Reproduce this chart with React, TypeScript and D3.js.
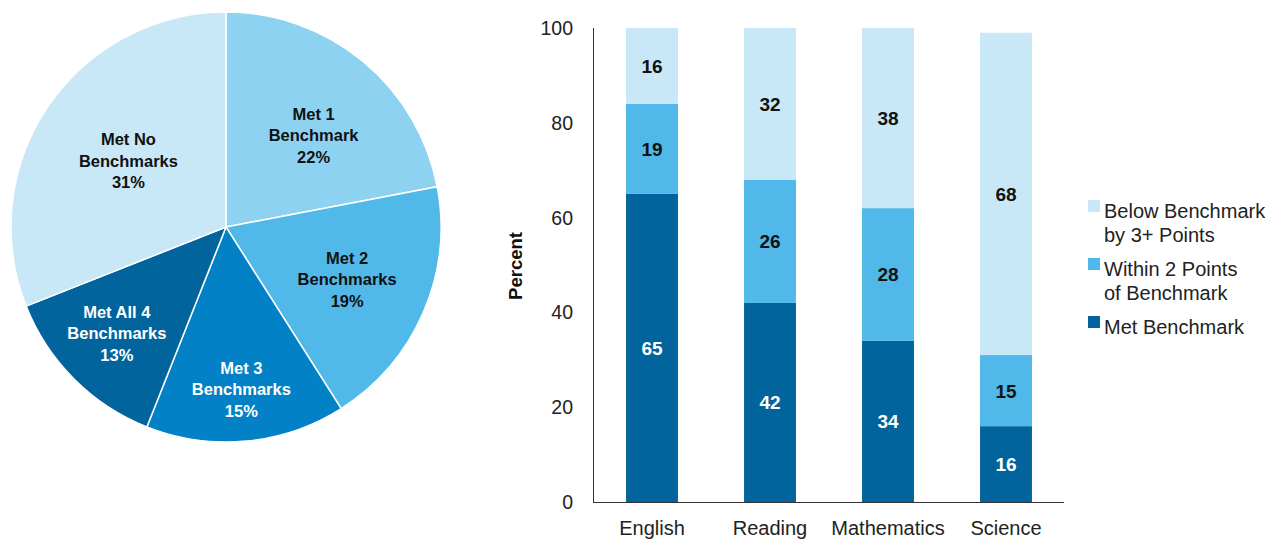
import React from "react";
import * as d3 from "d3";

const pieLabels = [
  ["Met 1", "Benchmark", "22%"],
  ["Met 2", "Benchmarks", "19%"],
  ["Met 3", "Benchmarks", "15%"],
  ["Met All 4", "Benchmarks", "13%"],
  ["Met No", "Benchmarks", "31%"],
];
const pieValues = [22, 19, 15, 13, 31];
const pieColors = ["#8ed2f2", "#50b9e9", "#0381c6", "#02649c", "#c8e8f8"];
const pieTextColors = ["#111", "#111", "#fff", "#fff", "#111"];
const pieLabelRadius = [128, 132, 163, 153, 118];
const pieLabelNudge = [[6, 7], [0, 0], [0, 0], [-1, -2], [0, 0]];

const categories = ["English", "Reading", "Mathematics", "Science"];
const metBenchmark = [65, 42, 34, 16];
const within2 = [19, 26, 28, 15];
const below3 = [16, 32, 38, 68];
const seriesColors = ["#02649c", "#50b9e9", "#c8e8f8"];
const seriesTextColors = ["#fff", "#111", "#111"];
const yTicks = [0, 20, 40, 60, 80, 100];
const legendItems = [
  { lines: ["Below Benchmark", "by 3+ Points"], color: "#c8e8f8" },
  { lines: ["Within 2 Points", "of Benchmark"], color: "#50b9e9" },
  { lines: ["Met Benchmark"], color: "#02649c" },
];

const FONT = "'Liberation Sans', Arial, Helvetica, sans-serif";

export default function App() {
  const cx = 226, cy = 227, R = 215;
  const pie = d3.pie<number>().value((d) => d).sort(null);
  const arcs = pie(pieValues);
  const arcGen = d3.arc<d3.PieArcDatum<number>>().innerRadius(0).outerRadius(R);

  const x = d3.scaleBand<string>().domain(categories).range([593, 1065]).paddingInner(0.56).paddingOuter(0.28);
  const y = d3.scaleLinear().domain([0, 100]).range([502, 28]);

  const series = [metBenchmark, within2, below3];

  return (
    <svg width={1278} height={540} style={{ position: "absolute", left: 0, top: 0 }} fontFamily={FONT}>
      <rect width={1278} height={540} fill="#fff" />
      <g transform={`translate(${cx},${cy})`}>
        {arcs.map((a, i) => (
          <path key={i} d={arcGen(a) || ""} fill={pieColors[i]} stroke="#fff" strokeWidth={1.5} />
        ))}
        {arcs.map((a, i) => {
          const r = pieLabelRadius[i];
          const c0 = d3.arc<d3.PieArcDatum<number>>().innerRadius(r).outerRadius(r).centroid(a);
          const c = [c0[0] + pieLabelNudge[i][0], c0[1] + pieLabelNudge[i][1]];
          return (
            <text key={i} x={c[0]} y={c[1]} textAnchor="middle" fontSize={16.5} fontWeight="bold" fill={pieTextColors[i]}>
              {pieLabels[i].map((t, j) => (
                <tspan key={j} x={c[0]} y={c[1] + (j - 1) * 21.5 + 6}>{t}</tspan>
              ))}
            </text>
          );
        })}
      </g>

      {categories.map((cat, ci) => {
        let acc = 0;
        return (
          <g key={cat}>
            {series.map((s, si) => {
              const v = s[ci];
              const y0 = acc, y1 = acc + v;
              acc = y1;
              return (
                <g key={si}>
                  <rect x={x(cat)} y={y(y1)} width={x.bandwidth()} height={y(y0) - y(y1)} fill={seriesColors[si]} />
                  <text x={(x(cat) as number) + x.bandwidth() / 2} y={y((y0 + y1) / 2) + 7} textAnchor="middle" fontSize={19} fontWeight="bold" fill={seriesTextColors[si]}>
                    {v}
                  </text>
                </g>
              );
            })}
          </g>
        );
      })}

      <line x1={593.5} x2={593.5} y1={28} y2={502} stroke="#333" strokeWidth={1} />
      <line x1={593} x2={1064} y1={502.5} y2={502.5} stroke="#333" strokeWidth={1} />
      {yTicks.map((t) => (
        <text key={t} x={573} y={y(t) + 7} textAnchor="end" fontSize={19.5} fill="#222">{t}</text>
      ))}
      {categories.map((c) => (
        <text key={c} x={(x(c) as number) + x.bandwidth() / 2} y={535} textAnchor="middle" fontSize={20} fill="#222">{c}</text>
      ))}
      <text transform="translate(522,266) rotate(-90)" textAnchor="middle" fontSize={18.5} fontWeight="bold" fill="#111">Percent</text>

      {(() => {
        let yy = 212;
        return legendItems.map((it, i) => {
          const top = yy;
          yy += it.lines.length * 24 + 10;
          return (
            <g key={i}>
              <rect x={1088} y={top - 12} width={12} height={12} fill={it.color} />
              {it.lines.map((l, j) => (
                <text key={j} x={1104} y={top + 6 + j * 24} fontSize={20} fill="#222">{l}</text>
              ))}
            </g>
          );
        });
      })()}
    </svg>
  );
}
